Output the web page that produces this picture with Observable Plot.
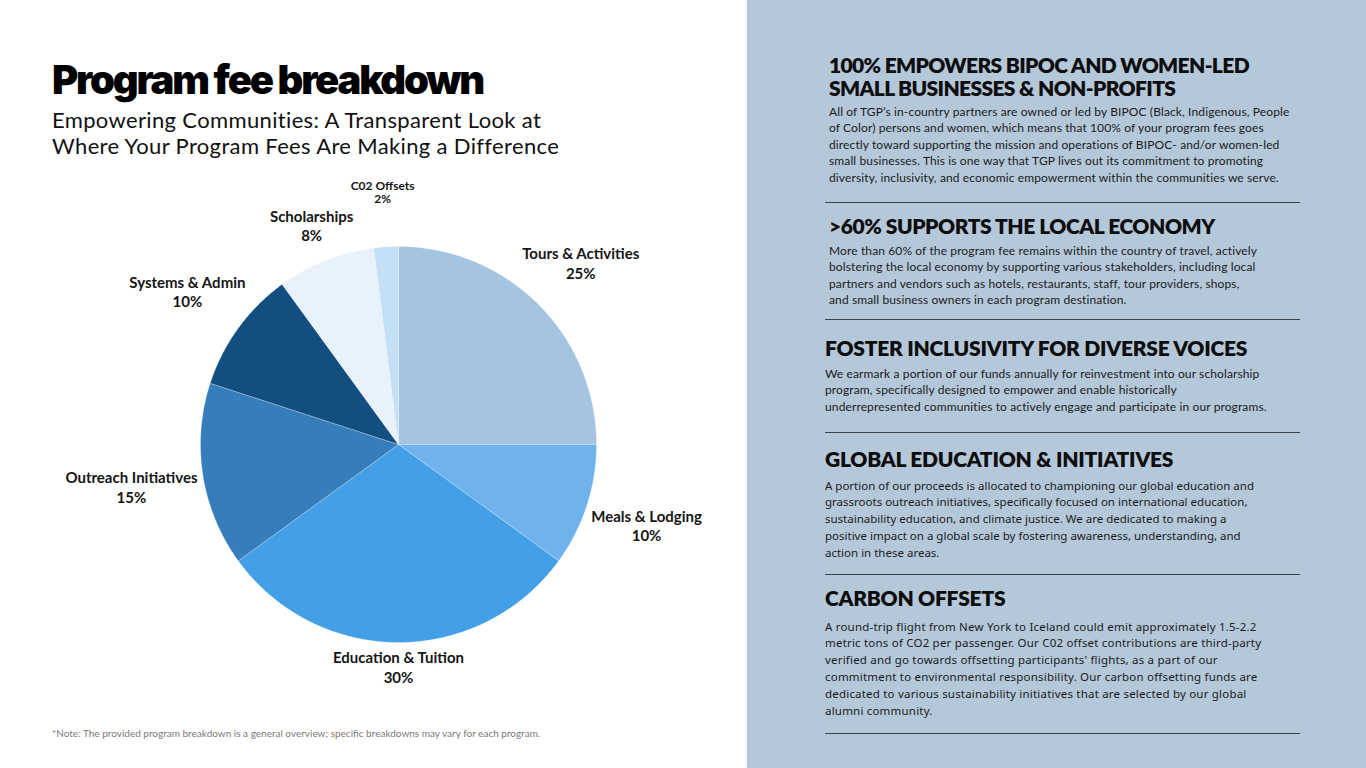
<!DOCTYPE html>
<html>
<head>
<meta charset="utf-8">
<script src="https://cdn.jsdelivr.net/npm/d3@7"></script>
<script src="https://cdn.jsdelivr.net/npm/@observablehq/plot@0.6"></script>
<style>
  html, body { margin:0; padding:0; width:1366px; height:768px; overflow:hidden; background:#fff; }
  body { position:relative; font-family: Lato, "Noto Sans", sans-serif; color:#111; }
  .abs { position:absolute; white-space:nowrap; }
  #title { left:52px; top:56px; font-family: Inter, Lato, sans-serif; font-weight:900; font-size:40px; letter-spacing:-2.2px; line-height:48px; color:#000; }
  #subtitle { left:52px; top:106.5px; font-family: Lato, sans-serif; font-size:22px; line-height:26.5px; letter-spacing:0.35px; color:#111; }
  #note { left:52px; top:726px; font-family: Lato, sans-serif; font-size:10px; letter-spacing:0px; color:#7a7a7a; line-height:14px; }
  #panel { position:absolute; left:747px; top:0; width:619px; height:768px; background:#b5c8d9; }
  .h { position:absolute; font-family: Lato, sans-serif; font-weight:800; font-size:21px; line-height:23px; color:#0d0d0d; white-space:nowrap; letter-spacing:-0.25px; }
  .p { position:absolute; font-family: Lato, sans-serif; font-size:12px; line-height:16.6px; letter-spacing:0.12px; color:#1a1a1a; white-space:nowrap; }
  .p2 { position:absolute; font-family: "Noto Sans", sans-serif; font-size:11.5px; line-height:16.8px; color:#1a1a1a; white-space:nowrap; }
  .rule { position:absolute; left:825px; width:475px; height:1.4px; background:#3b4148; }
  #chart { position:absolute; left:0; top:170px; }
</style>
</head>
<body>
<div id="title" class="abs">Program fee breakdown</div>
<div id="subtitle" class="abs">Empowering Communities: A Transparent Look at<br>Where Your Program Fees Are Making a Difference</div>
<div id="chart"></div>
<div id="note" class="abs">*Note: The provided program breakdown is a general overview; specific breakdowns may vary for each program.</div>

<div id="panel"></div>
<div class="h" style="left:829px; top:52.5px; letter-spacing:-0.65px">100% EMPOWERS BIPOC AND WOMEN-LED<br>SMALL BUSINESSES &amp; NON-PROFITS</div>
<div class="p" style="left:829px; top:103.7px">All of TGP’s in-country partners are owned or led by BIPOC (Black, Indigenous, People<br>of Color) persons and women, which means that 100% of your program fees goes<br>directly toward supporting the mission and operations of BIPOC- and/or women-led<br>small businesses. This is one way that TGP lives out its commitment to promoting<br>diversity, inclusivity, and economic empowerment within the communities we serve.</div>
<div class="rule" style="top:201.5px"></div>
<div class="h" style="left:829px; top:213.5px; letter-spacing:-0.45px">&gt;60% SUPPORTS THE LOCAL ECONOMY</div>
<div class="p" style="left:829px; top:242.7px">More than 60% of the program fee remains within the country of travel, actively<br>bolstering the local economy by supporting various stakeholders, including local<br>partners and vendors such as hotels, restaurants, staff, tour providers, shops,<br>and small business owners in each program destination.</div>
<div class="rule" style="top:318.5px"></div>
<div class="h" style="left:825px; top:335.5px">FOSTER INCLUSIVITY FOR DIVERSE VOICES</div>
<div class="p" style="left:825px; top:365.7px">We earmark a portion of our funds annually for reinvestment into our scholarship<br>program, specifically designed to empower and enable historically<br>underrepresented communities to actively engage and participate in our programs.</div>
<div class="rule" style="top:431.5px"></div>
<div class="h" style="left:825px; top:446.5px">GLOBAL EDUCATION &amp; INITIATIVES</div>
<div class="p2" style="left:825px; top:477.6px">A portion of our proceeds is allocated to championing our global education and<br>grassroots outreach initiatives, specifically focused on international education,<br>sustainability education, and climate justice. We are dedicated to making a<br>positive impact on a global scale by fostering awareness, understanding, and<br>action in these areas.</div>
<div class="rule" style="top:573.5px"></div>
<div class="h" style="left:825px; top:585.5px">CARBON OFFSETS</div>
<div class="p2" style="left:825px; top:618.6px; letter-spacing:0.2px">A round-trip flight from New York to Iceland could emit approximately 1.5-2.2<br>metric tons of CO2 per passenger. Our C02 offset contributions are third-party<br>verified and go towards offsetting participants' flights, as a part of our<br>commitment to environmental responsibility. Our carbon offsetting funds are<br>dedicated to various sustainability initiatives that are selected by our global<br>alumni community.</div>
<div class="rule" style="top:732.5px"></div>

<script>
// ---- data ----
const categories = ["Tours & Activities", "Meals & Lodging", "Education & Tuition", "Outreach Initiatives", "Systems & Admin", "Scholarships", "C02 Offsets"];
const shares = [25, 10, 30, 15, 10, 8, 2];
const palette = ["#a4c4e1", "#6eb3ed", "#43a0e7", "#357dbb", "#124e80", "#e8f2fb", "#c4e0f6"];

// ---- layout ----
const W = 740, H = 540;
const cxPx = 398, cyPx = 444 - 170, R = 198;

const rows = categories.map((name, i) => ({name, share: shares[i]}));
const arcs = d3.pie().sort(null).value(d => d.share)(rows);

// slice polygons (unit radius, y up, clockwise from 12 o'clock)
const slicePts = [];
for (const a of arcs) {
  const name = a.data.name;
  slicePts.push({name, x: 0, y: 0});
  const n = Math.max(2, Math.ceil((a.endAngle - a.startAngle) / (Math.PI / 360)));
  for (let k = 0; k <= n; k++) {
    const t = a.startAngle + (a.endAngle - a.startAngle) * k / n;
    slicePts.push({name, x: Math.sin(t), y: Math.cos(t)});
  }
  slicePts.push({name, x: 0, y: 0});
}

// label placement: box just outside the rim, pushed out on collision
const ctx = document.createElement("canvas").getContext("2d");
const gap = 4;
const placed = [];
const labels = arcs.map(a => {
  const small = a.data.share < 5;
  const fs = small ? 12 : 15;
  const lh = small ? 13 : 20;
  ctx.font = `bold ${fs}px Lato`;
  const lines = [a.data.name, a.data.share + "%"];
  const hw = d3.max(lines, s => ctx.measureText(s).width) / 2;
  const hh = lh;
  const m = (a.startAngle + a.endAngle) / 2;
  const s = Math.sin(m), c = Math.cos(m);
  let dist = R + gap + Math.abs(hw * s) + Math.abs(hh * c);
  const box = d => ({x0: d * s - hw, x1: d * s + hw, y0: d * c - hh, y1: d * c + hh});
  const overlaps = b => placed.some(p => b.x0 < p.x1 && b.x1 > p.x0 && b.y0 < p.y1 && b.y1 > p.y0);
  let b = box(dist);
  let guard = 0;
  while (overlaps(b) && guard++ < 200) { dist += 1; b = box(dist); }
  placed.push(b);
  return {label: lines.join("\n"), x: dist * s / R, y: dist * c / R, small};
});

const chart = Plot.plot({
  width: W, height: H, margin: 0,
  style: {background: "transparent", overflow: "visible"},
  x: {domain: [-cxPx / R, (W - cxPx) / R], axis: null},
  y: {domain: [-(H - cyPx) / R, cyPx / R], axis: null},
  color: {domain: categories, range: palette},
  marks: [
    Plot.line(slicePts, {x: "x", y: "y", z: "name", fill: "name", stroke: "#ffffff", strokeWidth: 0.5, strokeOpacity: 0.5, curve: "linear"}),
    Plot.text(labels.filter(d => !d.small), {x: "x", y: "y", text: "label", fontSize: 15, fontWeight: "bold", fontFamily: "Lato, sans-serif", lineHeight: 1.33, lineAnchor: "middle", textAnchor: "middle", fill: "#151515"}),
    Plot.text(labels.filter(d => d.small), {x: "x", y: "y", text: "label", fontSize: 12, fontWeight: "bold", fontFamily: "Lato, sans-serif", lineHeight: 1.08, lineAnchor: "middle", textAnchor: "middle", fill: "#151515"})
  ]
});
document.getElementById("chart").appendChild(chart);
</script>
</body>
</html>
